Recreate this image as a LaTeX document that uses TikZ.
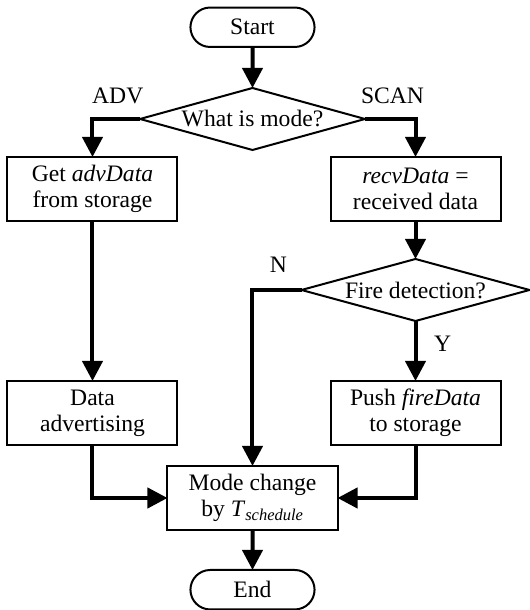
\documentclass[tikz,border=0pt]{standalone}
\usepackage{fontspec}
\setmainfont{Liberation Serif}
\usetikzlibrary{positioning,shapes.geometric,shapes.misc,arrows.meta}
\begin{document}
\begin{tikzpicture}[->, >={Triangle[length=15pt,width=15pt]}, line width=3pt, x=0.75pt, y=-0.75pt,
    term node/.style={rounded rectangle, draw, line width=1.5pt, outer sep=0pt, minimum width=99.75pt, minimum height=29.6pt},
    proc node/.style={rectangle, draw, line width=1.5pt, outer sep=0pt, minimum width=127.5pt, minimum height=48pt, align=center},
    dec node/.style={diamond, draw, line width=1.5pt, outer sep=0pt, aspect=3.6, inner sep=0pt, minimum width=168.75pt, minimum height=46.5pt}]
        \tikzstyle{every node}=[font=\fontsize{17.7}{19.5}\selectfont]
        \useasboundingbox (-252.5,-27.25) rectangle (276.5,582.75);

          \node[term node] (1) at (0,0) {Start};
          \node[dec node] (2) [below=30.75pt of 1] {What is mode?};
          \node[proc node] (3) [below=5.25pt of 2, xshift=-120pt] {Get \textit{advData}\\from storage};
          \node[proc node] (4) [below=5.25pt of 2, xshift=122.25pt] {\textit{recvData} =\\received data};
          \node[dec node, minimum width=171pt] (5) [below=28.5pt of 4] {Fire detection?};
          \node[proc node] (6) [below=45pt of 5] {Push \textit{fireData}\\to storage};
          \node[proc node] (7) [left=114.75pt of 6] {Data\\advertising};
          \node[proc node] (8) [below=15.75pt of 6, xshift=-122.25pt] {Mode change\\by \textit{T}\textsubscript{\textit{schedule}}};
          \node[term node] (9) [below=30pt of 8] {End};

          \node[inner sep=0pt] (adv) [above left=9.75pt and -4pt of 2.west] {ADV};
          \node[inner sep=0pt] (scan) [above right=9.75pt and -4.5pt of 2.east] {SCAN};
          \node[inner sep=0pt] (no) [above left=11.25pt and 9.4pt of 5.west] {N};
          \node[inner sep=0pt] (yes) [below right=9.75pt and 12.5pt of 5.south] {Y};

          \path
            (1) edge (2)
            (4) edge (5)
            (5) edge (6)
            (3) edge (7)
            (8) edge (9);
          \draw (2.west) -| (3);
          \draw (2.east) -| (4);
          \draw (5.west) -| (8);
          \draw (7) |- (8);
          \draw (6) |- (8);

        \end{tikzpicture}
\end{document}
